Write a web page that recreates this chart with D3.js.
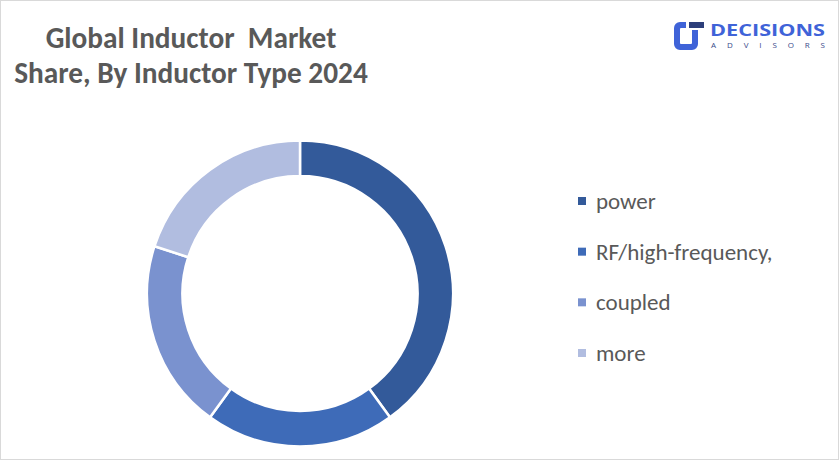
<!DOCTYPE html>
<html><head><meta charset="utf-8">
<script src="https://cdn.jsdelivr.net/npm/d3@7/dist/d3.min.js"></script>
<style>html,body{margin:0;padding:0;background:#fff;}svg{display:block;}</style>
</head><body>
<svg id="chart" width="839" height="461"></svg>
<script>
const categories = ["power", "RF/high-frequency,", "coupled", "more"];
const values = [40, 20, 20, 20];
const colors = ["#335a9a", "#3e6bb8", "#7a92cf", "#b1bde0"];
const titleLines = ["Global Inductor  Market", "Share, By Inductor Type 2024"];

const svg = d3.select("#chart");
svg.append("rect").attr("x",0.5).attr("y",0.5).attr("width",838).attr("height",459)
  .attr("fill","#fff").attr("stroke","#d9d9d9").attr("stroke-width",1);

const font = "Calibri, Carlito, Lato, 'Open Sans', sans-serif";
svg.append("g").selectAll("text").data(titleLines).join("text")
  .attr("x",191).attr("y",(d,i)=>48+i*35).attr("text-anchor","middle")
  .attr("font-family",font).attr("font-weight","bold").attr("font-size",29.3)
  .attr("fill","#595959").attr("xml:space","preserve").text(d=>d);

// donut
const cx = 300, cy = 293.5, rOuter = 153, rInner = 117.5;
const pie = d3.pie().sort(null).value(d=>d);
const arc = d3.arc().innerRadius(rInner).outerRadius(rOuter);
const color = d3.scaleOrdinal().domain(categories).range(colors);
svg.append("g").attr("transform",`translate(${cx},${cy})`)
  .selectAll("path").data(pie(values)).join("path")
  .attr("d",arc).attr("fill",(d,i)=>color(categories[i]))
  .attr("stroke","#fff").attr("stroke-width",2.5);

// legend
const ly = d3.scalePoint().domain(categories).range([201, 353]);
const lg = svg.append("g").selectAll("g").data(categories).join("g")
  .attr("transform",d=>`translate(578,${ly(d)})`);
lg.append("rect").attr("x",0).attr("y",-4).attr("width",8).attr("height",8).attr("fill",d=>color(d));
lg.append("text").attr("x",18).attr("y",0).attr("dy","0.35em")
  .attr("font-family",font).attr("font-size",23).attr("fill","#595959").text(d=>d);

// logo
const logo = svg.append("g");
const blue = "#3f63d8";
logo.append("path").attr("d","M686,22 h-6 a6,6 0 0 0 -6,6 v16 a6,6 0 0 0 6,6 h12 a6,6 0 0 0 6,-6 v-10 h-6 v9 a1,1 0 0 1 -1,1 h-10 a1,1 0 0 1 -1,-1 v-14 a1,1 0 0 1 1,-1 h5 z").attr("fill",blue);
logo.append("path").attr("d","M689,22 h15 v6 h-15 z").attr("fill","#2c3e7a");
logo.append("path").attr("d","M692,30 h6 v4 h-6 z").attr("fill",blue);
logo.append("text").attr("x",710).attr("y",35.5).attr("font-family","'Open Sans', Roboto, sans-serif")
  .attr("font-weight","bold").attr("font-size",16.5).attr("fill",blue).attr("textLength",115).attr("lengthAdjust","spacingAndGlyphs").text("DECISIONS");
logo.append("text").attr("x",711).attr("y",48).attr("font-family","'Open Sans', Roboto, sans-serif")
  .attr("font-size",8).attr("fill","#3a4a8a").attr("textLength",114).attr("lengthAdjust","spacing").text("ADVISORS");
</script>
</body></html>
